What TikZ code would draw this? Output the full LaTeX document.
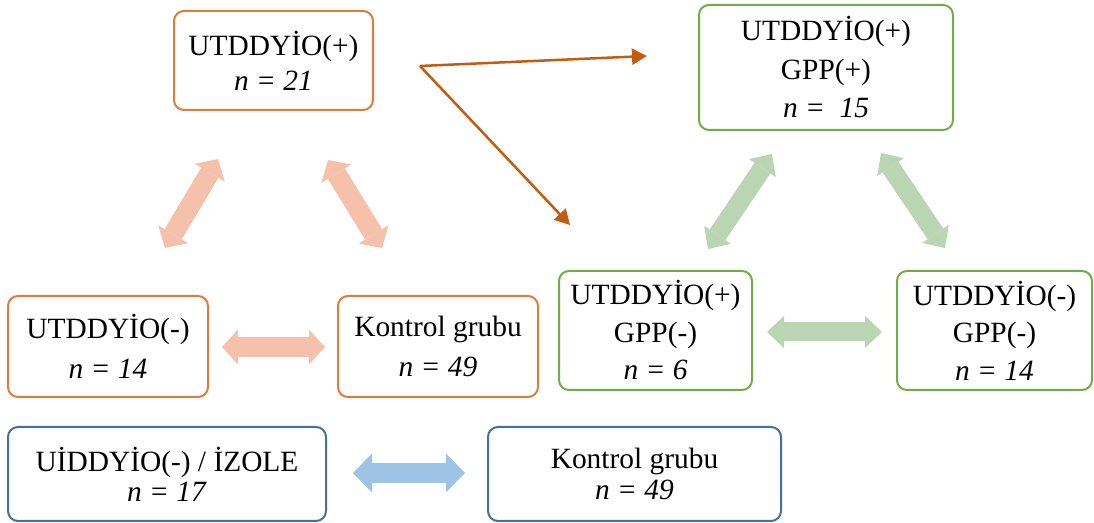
\documentclass[tikz,border=0pt]{standalone}
\usepackage{fontspec}
\setmainfont{Liberation Serif}
\usetikzlibrary{arrows.meta}
\definecolor{oBorder}{HTML}{E07B39}
\definecolor{gBorder}{HTML}{70AD47}
\definecolor{bBorder}{HTML}{41719C}
\definecolor{oFill}{HTML}{F5C1AB}
\definecolor{gFill}{HTML}{BAD5B1}
\definecolor{bFill}{HTML}{9DC3E6}
\definecolor{thinArr}{HTML}{C55A11}
\newcommand\fsz[1]{\fontsize{14.7}{#1}\selectfont}
\begin{document}
\begin{tikzpicture}[x=0.5pt,y=-0.5pt,
  box/.style={draw, line width=1pt, rounded corners=5pt, inner sep=0pt, align=center, fill=white},
  obox/.style={box, draw=oBorder},
  gbox/.style={box, draw=gBorder},
  bbox/.style={box, draw=bBorder},
  oblock/.style={draw=oFill, line width=10pt, {Triangle[length=8pt,width=17.5pt,line width=0pt]}-{Triangle[length=8pt,width=17.5pt,line width=0pt]}},
  gblock/.style={draw=gFill, line width=9.5pt, {Triangle[length=8.5pt,width=16pt,line width=0pt]}-{Triangle[length=8.5pt,width=16pt,line width=0pt]}},
  bblock/.style={draw=bFill, line width=10pt, {Triangle[length=9.5pt,width=19.5pt,line width=0pt]}-{Triangle[length=9.5pt,width=19.5pt,line width=0pt]}},
  thinarrow/.style={draw=thinArr, line width=1.25pt, -{Triangle[length=7.5pt,width=8pt]}}
]
\useasboundingbox (0,0) rectangle (1094,523);

\node[obox, minimum width=99.5pt, minimum height=49.5pt, font=\fsz{17.5}] (b1) at (273.5,60.5) {UTDDYİO(+)\\\textit{n = 21}};
\node[gbox, minimum width=127pt, minimum height=62.5pt, font=\fsz{19.25}] (b2) at (826,67.5) {UTDDYİO(+)\\GPP(+)\\\textit{n =\ \ 15}};
\node[obox, minimum width=100pt, minimum height=50.5pt, font=\fsz{20}] (b3) at (108,346.5) {UTDDYİO(-)\\\textit{n = 14}};
\node[obox, minimum width=100pt, minimum height=50.5pt, font=\fsz{20}] (b4) at (438,346.5) {Kontrol grubu\\\textit{n = 49}};
\node[gbox, minimum width=96.5pt, minimum height=59.5pt, font=\fsz{18.75}] (b5) at (655.5,330.5) {UTDDYİO(+)\\GPP(-)\\\textit{n = 6}};
\node[gbox, minimum width=97.5pt, minimum height=59.5pt, font=\fsz{18.75}] (b6) at (994.5,330.5) {UTDDYİO(-)\\GPP(-)\\\textit{n = 14}};
\node[bbox, minimum width=159pt, minimum height=47pt, font=\fsz{15}] (b7) at (167,474) {UİDDYİO(-) / İZOLE\\\textit{n = 17}};
\node[bbox, minimum width=146.5pt, minimum height=47pt, font=\fsz{15.5}] (b8) at (634.5,474) {Kontrol grubu\\\textit{n = 49}};

% block arrow end points
\coordinate (ol1) at (165,248); \coordinate (ol2) at (218,159);
\coordinate (or1) at (328,160); \coordinate (or2) at (382,248);
\coordinate (oh1) at (222,347); \coordinate (oh2) at (325,347);
\coordinate (gl1) at (708,249); \coordinate (gl2) at (772,154);
\coordinate (gr1) at (881,153); \coordinate (gr2) at (945,248);
\coordinate (gh1) at (767,332); \coordinate (gh2) at (882,332);
\coordinate (bh1) at (353,473); \coordinate (bh2) at (465,473);

\draw[oblock] (ol1) -- (ol2);
\draw[oblock] (or1) -- (or2);
\draw[oblock] (oh1) -- (oh2);
\draw[gblock] (gl1) -- (gl2);
\draw[gblock] (gr1) -- (gr2);
\draw[gblock] (gh1) -- (gh2);
\draw[bblock] (bh1) -- (bh2);

% thin arrows
\coordinate (ts) at (420,66);
\coordinate (te1) at (647,56);
\coordinate (te2) at (570,225);
\draw[thinarrow] (ts) -- (te1);
\draw[thinarrow] (ts) -- (te2);
\end{tikzpicture}
\end{document}
